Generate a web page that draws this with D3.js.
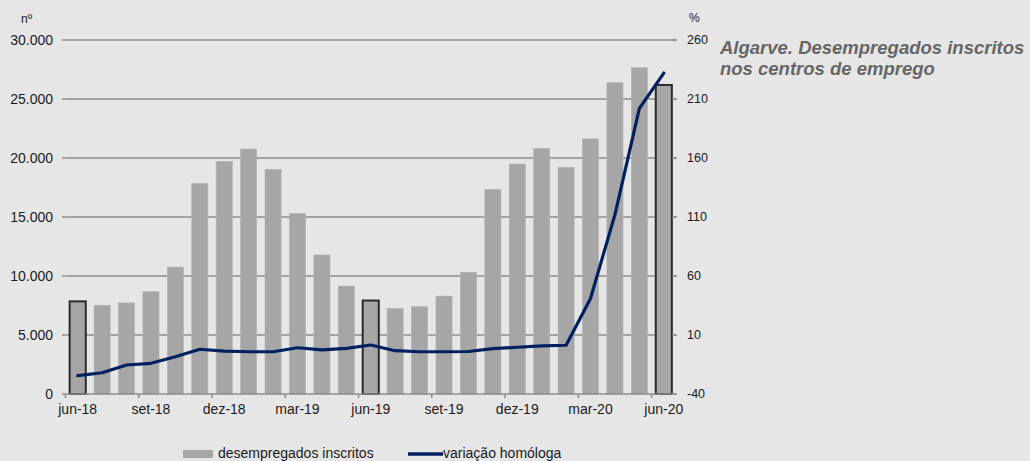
<!DOCTYPE html>
<html>
<head>
<meta charset="utf-8">
<script src="https://cdn.jsdelivr.net/npm/d3@7"></script>
<style>
  html, body { margin: 0; padding: 0; background: #e6e6e6; }
  svg { display: block; font-family: "Liberation Sans", Arial, sans-serif; }
</style>
</head>
<body>
<svg id="chart" width="1030" height="461"></svg>
<script>
const months = ["jun-18","jul-18","ago-18","set-18","out-18","nov-18","dez-18","jan-19","fev-19","mar-19","abr-19","mai-19",
                "jun-19","jul-19","ago-19","set-19","out-19","nov-19","dez-19","jan-20","fev-20","mar-20","abr-20","mai-20","jun-20"];
const desempregados = [7850, 7520, 7720, 8670, 10760, 17850, 19720, 20760, 19040, 15310, 11780, 9150,
                       7920, 7260, 7400, 8300, 10310, 17350, 19490, 20820, 19210, 21620, 26380, 27650, 26190];
const variacao = [-24.5, -22, -15.4, -14, -8.4, -2.1, -3.6, -4.2, -4.2, -0.8, -2.6, -1.3,
                  1.5, -3.3, -4.2, -4.2, -4.0, -1.6, -0.4, 0.8, 1.3, 41, 112, 202, 232];
const highlighted = ["jun-18", "jun-19", "jun-20"];
const tickMonths = ["jun-18","set-18","dez-18","mar-19","jun-19","set-19","dez-19","mar-20","jun-20"];
const leftTicks = [0, 5000, 10000, 15000, 20000, 25000, 30000];
const rightTicks = [-40, 10, 60, 110, 160, 210, 260];
const titleLines = ["Algarve. Desempregados inscritos", "nos centros de emprego"];
const legendLabels = ["desempregados inscritos", "variação homóloga"];

const svg = d3.select("#chart");
const x0 = 65.5, x1 = 676, yTop = 40, yBot = 394;
const x = d3.scaleBand().domain(months).range([x0, x1]).paddingInner(0.34).paddingOuter(0.17);
const yL = d3.scaleLinear().domain([0, 30000]).range([yBot, yTop]);
const yR = d3.scaleLinear().domain([-40, 260]).range([yBot, yTop]);
const fmt = d => d3.format(",")(d).replace(/,/g, ".");

// gridlines
svg.append("g").selectAll("line").data(leftTicks.filter(d => d > 0)).join("line")
  .attr("x1", x0).attr("x2", x1).attr("y1", d => yL(d)).attr("y2", d => yL(d))
  .attr("stroke", "#8c8c8c").attr("stroke-width", 1.5);

// bars
svg.append("g").selectAll("rect").data(months).join("rect")
  .attr("x", d => x(d)).attr("width", x.bandwidth())
  .attr("y", (d, i) => yL(desempregados[i]))
  .attr("height", (d, i) => yBot - yL(desempregados[i]))
  .attr("fill", "#a6a6a6")
  .attr("stroke", d => highlighted.includes(d) ? "#2b2b2b" : "#b3b3b3")
  .attr("stroke-width", d => highlighted.includes(d) ? 2 : 0.6);

// bottom axis
const step = x.step();
const gx = svg.append("g").attr("transform", `translate(0,${yBot})`);
gx.append("line").attr("x1", x0).attr("x2", x1).attr("stroke", "#8c8c8c").attr("stroke-width", 1.5);
gx.selectAll("line.tk").data(tickMonths).join("line").attr("class", "tk")
  .attr("x1", d => x(d) + x.bandwidth() / 2 - step / 2).attr("x2", d => x(d) + x.bandwidth() / 2 - step / 2)
  .attr("y1", 0).attr("y2", 4).attr("stroke", "#8c8c8c").attr("stroke-width", 1.5);
gx.selectAll("text").data(tickMonths).join("text")
  .attr("x", d => x(d) + x.bandwidth() / 2).attr("y", 20)
  .attr("text-anchor", "middle").attr("font-size", 14).attr("fill", "#1a1a1a").text(d => d);

// left axis
const gl = svg.append("g");
gl.selectAll("text").data(leftTicks).join("text")
  .attr("x", 53).attr("y", d => yL(d)).attr("dy", "0.35em")
  .attr("text-anchor", "end").attr("font-size", 14).attr("fill", "#1a1a1a").text(fmt);
gl.selectAll("line").data(leftTicks).join("line")
  .attr("x1", 62).attr("x2", x0).attr("y1", d => yL(d)).attr("y2", d => yL(d))
  .attr("stroke", "#8c8c8c").attr("stroke-width", 1.5);
svg.append("text").attr("x", 21).attr("y", 23).attr("font-size", 12).attr("fill", "#1a1a1a").text("nº");

// right axis
const gr = svg.append("g");
gr.selectAll("line").data(rightTicks).join("line")
  .attr("x1", 672).attr("x2", 677).attr("y1", d => yR(d)).attr("y2", d => yR(d))
  .attr("stroke", "#8c8c8c").attr("stroke-width", 1.5);
gr.selectAll("text").data(rightTicks).join("text")
  .attr("x", 687).attr("y", d => yR(d)).attr("dy", "0.35em")
  .attr("font-size", 12.5).attr("fill", "#1a1a1a").text(d => d);
svg.append("text").attr("x", 689).attr("y", 22).attr("font-size", 12).attr("fill", "#1a1a1a").text("%");

// line
const line = d3.line()
  .x((d, i) => x(months[i]) + x.bandwidth() / 2)
  .y(d => yR(d));
svg.append("path").datum(variacao).attr("d", line)
  .attr("fill", "none").attr("stroke", "#002060").attr("stroke-width", 3.2)
  .attr("stroke-linejoin", "round").attr("stroke-linecap", "round");

// title
svg.append("g").selectAll("text").data(titleLines).join("text")
  .attr("x", 720).attr("y", (d, i) => 54 + i * 21)
  .attr("font-size", 18.5).attr("font-weight", "bold").attr("font-style", "italic")
  .attr("fill", "#666666").text(d => d);

// legend
const lg = svg.append("g");
lg.append("rect").attr("x", 183).attr("y", 450).attr("width", 30).attr("height", 8).attr("fill", "#a6a6a6");
lg.append("text").attr("x", 218).attr("y", 457.5).attr("font-size", 14).attr("fill", "#1a1a1a").text(legendLabels[0]);
lg.append("line").attr("x1", 408).attr("x2", 443).attr("y1", 454).attr("y2", 454)
  .attr("stroke", "#002060").attr("stroke-width", 3.5);
lg.append("text").attr("x", 443).attr("y", 457.5).attr("font-size", 14).attr("fill", "#1a1a1a").text(legendLabels[1]);
</script>
</body>
</html>
